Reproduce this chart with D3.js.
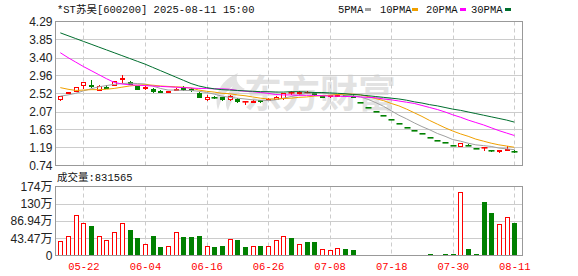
<!DOCTYPE html>
<html>
<head>
<meta charset="utf-8">
<script src="https://cdn.jsdelivr.net/npm/d3@7"></script>
<style>
  body { margin: 0; background: #fff; }
  svg { display: block; }
</style>
</head>
<body>
<div id="chart"></div>
<script>
// data
var dates = ["05-19","05-20","05-21","05-22","05-23","05-26","05-27","05-28","05-29","05-30",
  "06-03","06-04","06-05","06-06","06-09","06-10","06-11","06-12","06-13","06-16",
  "06-17","06-18","06-19","06-20","06-23","06-24","06-25","06-26","06-27","06-30",
  "07-01","07-02","07-03","07-04","07-07","07-08","07-09","07-10","07-11","07-14",
  "07-15","07-16","07-17","07-18","07-21","07-22","07-23","07-24","07-25","07-28",
  "07-29","07-30","07-31","08-01","08-04","08-05","08-06","08-07","08-08","08-11"];

var prevClose = 2.36;
var opens = [2.37,2.53,2.58,2.73,2.72,2.61,2.66,2.73,2.87,2.81,
  2.70,2.64,2.63,2.58,2.55,2.60,2.64,2.63,2.53,2.37,
  2.44,2.42,2.37,2.39,2.33,2.31,2.35,2.36,2.39,2.40,
  2.56,2.53,2.56,2.53,2.43,2.45,2.46,2.48,2.46,2.31,
  2.19,2.08,1.98,1.88,1.79,1.70,1.61,1.53,1.45,1.38,
  1.31,1.24,1.23,1.25,1.18,1.19,1.13,1.09,1.13,1.10];
var highs = [2.46,2.56,2.67,2.80,2.84,2.73,2.73,2.83,2.96,2.82,
  2.71,2.69,2.64,2.59,2.58,2.66,2.69,2.64,2.54,2.49,
  2.46,2.43,2.49,2.40,2.34,2.35,2.36,2.41,2.45,2.53,
  2.58,2.57,2.57,2.54,2.46,2.49,2.50,2.49,2.47,2.31,
  2.19,2.08,1.98,1.88,1.79,1.70,1.61,1.53,1.45,1.38,
  1.31,1.24,1.30,1.26,1.18,1.19,1.13,1.13,1.21,1.11];
var lows = [2.36,2.52,2.57,2.66,2.68,2.60,2.65,2.72,2.81,2.74,
  2.62,2.63,2.55,2.55,2.54,2.59,2.61,2.58,2.42,2.36,
  2.40,2.36,2.36,2.31,2.26,2.30,2.31,2.35,2.38,2.39,
  2.50,2.51,2.53,2.48,2.42,2.44,2.45,2.45,2.42,2.31,
  2.19,2.08,1.98,1.88,1.79,1.70,1.61,1.53,1.45,1.38,
  1.31,1.24,1.22,1.24,1.18,1.11,1.09,1.07,1.12,1.08];
var closes = [2.45,2.54,2.67,2.80,2.69,2.70,2.68,2.82,2.89,2.76,
  2.63,2.67,2.57,2.56,2.57,2.63,2.62,2.59,2.43,2.44,
  2.42,2.37,2.45,2.32,2.33,2.34,2.33,2.39,2.42,2.52,
  2.54,2.55,2.56,2.50,2.45,2.47,2.48,2.46,2.43,2.31,
  2.19,2.08,1.98,1.88,1.79,1.70,1.61,1.53,1.45,1.38,
  1.31,1.24,1.30,1.24,1.18,1.19,1.12,1.13,1.14,1.09];

var ma5 = [2.45,2.48,2.52,2.58,2.63,2.68,2.71,2.74,2.76,2.77,
  2.76,2.75,2.70,2.64,2.60,2.60,2.59,2.59,2.57,2.54,
  2.50,2.45,2.42,2.40,2.38,2.36,2.35,2.34,2.36,2.40,
  2.44,2.48,2.52,2.53,2.52,2.51,2.49,2.47,2.46,2.43,
  2.37,2.29,2.20,2.09,1.98,1.89,1.79,1.70,1.62,1.53,
  1.46,1.38,1.34,1.29,1.25,1.23,1.21,1.17,1.15,1.13];
var ma10 = [2.66,2.62,2.59,2.60,2.61,2.61,2.62,2.64,2.67,2.70,
  2.72,2.73,2.72,2.70,2.69,2.68,2.67,2.65,2.60,2.57,
  2.55,2.52,2.51,2.48,2.46,2.43,2.40,2.38,2.38,2.39,
  2.40,2.42,2.43,2.45,2.46,2.47,2.49,2.50,2.50,2.48,
  2.44,2.39,2.34,2.27,2.21,2.13,2.04,1.95,1.85,1.76,
  1.67,1.59,1.52,1.46,1.39,1.34,1.29,1.25,1.22,1.19];
var ma20 = [3.52,3.40,3.29,3.18,3.08,2.98,2.88,2.79,2.75,2.73,
  2.72,2.71,2.70,2.69,2.68,2.67,2.66,2.65,2.64,2.64,
  2.63,2.63,2.62,2.59,2.57,2.56,2.54,2.52,2.49,2.48,
  2.48,2.47,2.47,2.47,2.46,2.45,2.45,2.44,2.44,2.43,
  2.42,2.41,2.38,2.36,2.33,2.30,2.27,2.22,2.17,2.12,
  2.06,1.99,1.93,1.86,1.80,1.74,1.67,1.60,1.54,1.48];
var ma30 = [4.01,3.94,3.87,3.80,3.73,3.66,3.59,3.52,3.45,3.38,
  3.31,3.24,3.16,3.08,3.00,2.92,2.84,2.76,2.70,2.66,
  2.63,2.61,2.60,2.59,2.58,2.57,2.56,2.56,2.55,2.55,
  2.56,2.56,2.55,2.54,2.54,2.53,2.52,2.51,2.49,2.48,
  2.46,2.44,2.42,2.40,2.38,2.35,2.31,2.28,2.24,2.21,
  2.17,2.13,2.10,2.06,2.02,1.98,1.94,1.90,1.86,1.81];

// volume in 万
var volumes = [36,48,103,83,75,48,38,58,83,64,
  45,28,50,21,25,58,46,46,48,25,
  21,23,41,39,21,23,23,25,39,50,
  45,30,33,33,17,15,20,17,15,2.2,
  2.0,1.8,2.1,1.9,2.3,2.0,2.4,2.2,2.6,2.5,
  2.8,3.1,161,16,5,135,108,80,97,83.1565];

var priceTicks = [4.29,3.85,3.40,2.96,2.52,2.07,1.63,1.19,0.74];
var volTicks = [0,43.47,86.94,130.41,173.88];
var volTickLabels = ["0","43.47万","86.94万","130万","174万"];
var dateTicks = ["05-22","06-04","06-16","06-26","07-08","07-18","07-30","08-11"];

var maNames = ["5PMA","10PMA","20PMA","30PMA"];
var maColors = ["#a0a0a0","#f0a000","#ff00ff","#006e2e"];
var maSeries = [ma5, ma10, ma20, ma30];

var RED = "#ff0000", GREEN = "#008000";
var W = 578, H = 276;
var left = 55.5, right = 522.5;
var mainTop = 21.5, mainBottom = 165.5;
var volTop = 186.5, volBottom = 255.5;

var svg = d3.select("#chart").append("svg")
    .attr("width", W)
    .attr("height", H);

var x = d3.scalePoint().domain(dates).range([60.3, 514.3]);
var y = d3.scaleLinear().domain([0.74, 4.29]).range([mainBottom, mainTop]);
var yv = d3.scaleLinear().domain([0, 173.88]).range([volBottom, volTop]);

function px(v) { return Math.round(v) + 0.5; }

// watermark
var wm = svg.append("g").attr("fill", "#e2e2e2");
wm.append("path")
    .attr("d", "M238,73 C222,80 213,93 218,110 C221,98 226,91 233,86 C226,96 224,104 228,111 C231,100 237,93 245,89 C237,85 235,79 238,73 Z");
wm.append("text")
    .attr("x", 244)
    .attr("y", 107)
    .attr("font-family", "'Noto Sans CJK SC', sans-serif")
    .attr("font-weight", 700)
    .attr("font-size", 38)
    .attr("letter-spacing", 0)
    .text("东方财富");

// grid
var grid = svg.append("g").attr("stroke", "#cccccc").attr("stroke-width", 1);
priceTicks.slice(1, -1).forEach(function (t) {
    grid.append("line")
        .attr("x1", left).attr("x2", right)
        .attr("y1", px(y(t))).attr("y2", px(y(t)));
});
volTicks.slice(1, -1).forEach(function (t) {
    grid.append("line")
        .attr("x1", left).attr("x2", right)
        .attr("y1", px(yv(t))).attr("y2", px(yv(t)));
});
dateTicks.forEach(function (d) {
    [[mainTop, mainBottom], [volTop, volBottom]].forEach(function (r) {
        grid.append("line")
            .attr("x1", px(x(d))).attr("x2", px(x(d)))
            .attr("y1", r[0]).attr("y2", r[1])
            .attr("stroke-dasharray", "4,3");
    });
});

// candles
var bw = 5;
var candles = svg.append("g");
d3.range(dates.length).forEach(function (i) {
    var o = opens[i], c = closes[i], h = highs[i], l = lows[i];
    var pc = i === 0 ? prevClose : closes[i - 1];
    var col = c > pc ? RED : (c < pc ? GREEN : (c >= o ? RED : GREEN));
    var cx = px(x(dates[i]));
    var g = candles.append("g");
    g.append("line")
        .attr("x1", cx).attr("x2", cx)
        .attr("y1", Math.round(y(h))).attr("y2", Math.round(y(l)) + 1)
        .attr("stroke", col);
    var top = Math.round(y(Math.max(o, c)));
    var bot = Math.round(y(Math.min(o, c)));
    if (bot - top < 1) {
        g.append("rect")
            .attr("x", cx - 3).attr("y", top)
            .attr("width", bw + 1).attr("height", 1.6)
            .attr("fill", col);
    } else if (c > o) {
        g.append("rect")
            .attr("x", cx - 2).attr("y", top + 0.5)
            .attr("width", bw - 1).attr("height", bot - top)
            .attr("fill", "#fff").attr("stroke", col);
    } else {
        g.append("rect")
            .attr("x", cx - 2.5).attr("y", top)
            .attr("width", bw).attr("height", bot - top + 1)
            .attr("fill", col);
    }
});

// moving averages
maSeries.forEach(function (s, k) {
    svg.append("path")
        .datum(s)
        .attr("fill", "none")
        .attr("stroke", maColors[k])
        .attr("stroke-width", 1)
        .attr("d", d3.line()
            .x(function (d, i) { return x(dates[i]); })
            .y(function (d) { return y(d); }));
});

// volume bars
svg.append("g").selectAll("rect")
    .data(volumes)
    .join("rect")
    .attr("x", function (d, i) { return closes[i] > opens[i] ? px(x(dates[i])) - 2 : px(x(dates[i])) - 2.5; })
    .attr("y", function (d, i) { return closes[i] > opens[i] ? Math.round(yv(d)) + 0.5 : Math.round(yv(d)); })
    .attr("width", function (d, i) { return closes[i] > opens[i] ? bw - 1 : bw; })
    .attr("height", function (d, i) { return Math.max(1, volBottom - 0.5 - Math.round(yv(d))); })
    .attr("fill", function (d, i) { return closes[i] > opens[i] ? "#fff" : GREEN; })
    .attr("stroke", function (d, i) { return closes[i] > opens[i] ? RED : "none"; });

// frames
[[mainTop, mainBottom], [volTop, volBottom]].forEach(function (r) {
    svg.append("rect")
        .attr("x", left).attr("y", r[0])
        .attr("width", right - left).attr("height", r[1] - r[0])
        .attr("fill", "none")
        .attr("stroke", "#999999");
});

// axes
var axisFont = "'Liberation Sans', Arial, 'Noto Sans CJK SC', sans-serif";
var monoFont = "'Liberation Mono', 'Noto Sans CJK SC', monospace";

var yAxis = d3.axisLeft(y).tickValues(priceTicks).tickSize(0).tickPadding(3)
    .tickFormat(d3.format(".2f"));
svg.append("g")
    .attr("transform", "translate(" + left + ",0)")
    .call(yAxis)
    .call(function (g) { g.select(".domain").remove(); })
    .selectAll("text")
    .attr("font-family", axisFont)
    .attr("font-size", 12)
    .attr("fill", "#222");

var vAxis = d3.axisLeft(yv).tickValues(volTicks).tickSize(0).tickPadding(3)
    .tickFormat(function (d, i) { return volTickLabels[i]; });
svg.append("g")
    .attr("transform", "translate(" + left + ",0)")
    .call(vAxis)
    .call(function (g) { g.select(".domain").remove(); })
    .selectAll("text")
    .attr("font-family", axisFont)
    .attr("font-size", 12)
    .attr("fill", "#222");

var xAxis = d3.axisBottom(x).tickValues(dateTicks).tickSize(0).tickPadding(7);
svg.append("g")
    .attr("transform", "translate(0," + volBottom + ")")
    .call(xAxis)
    .call(function (g) { g.select(".domain").remove(); })
    .selectAll("text")
    .attr("font-family", monoFont)
    .attr("font-size", 10.5)
    .attr("fill", RED);

// title and labels
svg.append("text")
    .attr("x", 57).attr("y", 13)
    .attr("font-family", monoFont)
    .attr("font-size", 10.5)
    .attr("fill", "#111")
    .text("*ST苏吴[600200] 2025-08-11 15:00");

svg.append("text")
    .attr("x", 57).attr("y", 181)
    .attr("font-family", monoFont)
    .attr("font-size", 10.5)
    .attr("fill", "#111")
    .text("成交量:831565");

// legend
var legTextX = [338, 380, 426, 471];
var legSwX = [365, 412, 460, 505];
maNames.forEach(function (n, k) {
    svg.append("text")
        .attr("x", legTextX[k]).attr("y", 13)
        .attr("font-family", monoFont)
        .attr("font-size", 10.5)
        .attr("fill", "#111")
        .text(n);
    svg.append("rect")
        .attr("x", legSwX[k]).attr("y", 8)
        .attr("width", 6).attr("height", 3)
        .attr("fill", maColors[k]);
});
</script>
</body>
</html>
